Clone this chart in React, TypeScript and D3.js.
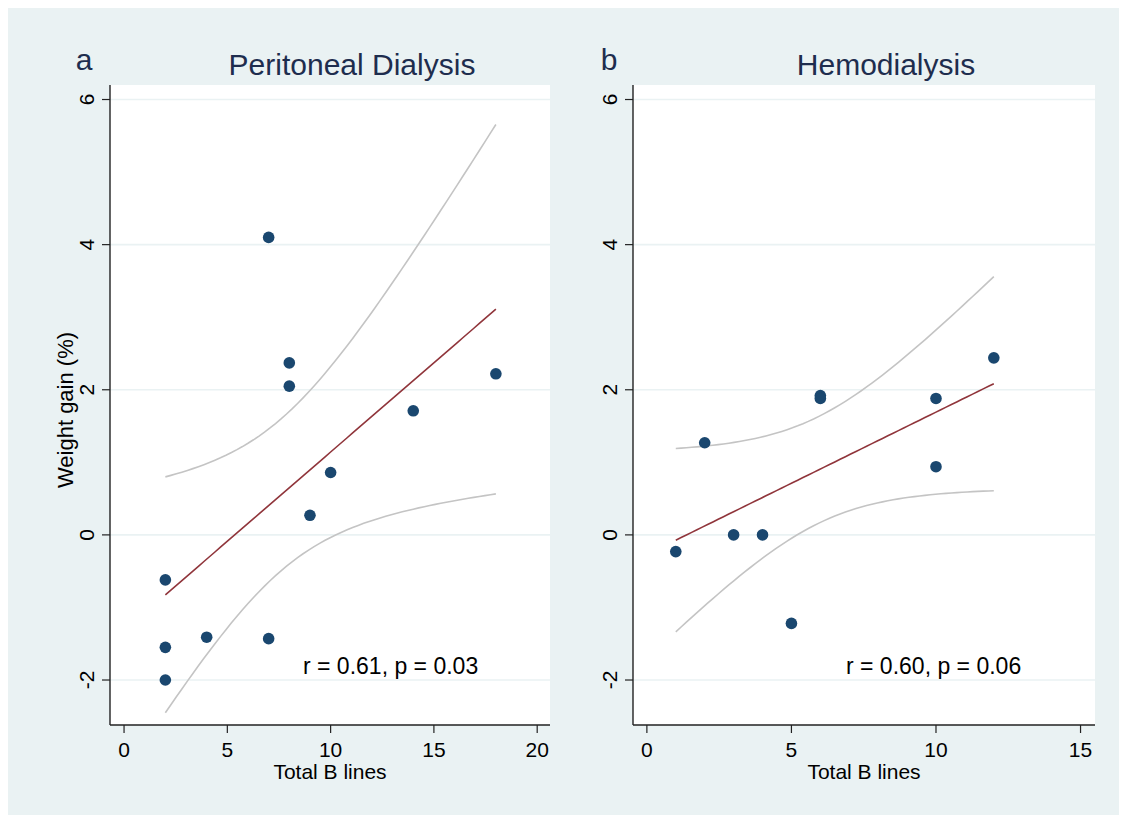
import React from 'react';
import * as d3 from 'd3';

// Peritoneal dialysis: total B lines vs weight gain (%)
const pdLines = [7, 8, 8, 18, 14, 10, 9, 2, 2, 4, 7, 2];
const pdGain = [4.1, 2.37, 2.05, 2.22, 1.71, 0.86, 0.27, -0.62, -1.55, -1.41, -1.43, -2.0];
// Hemodialysis
const hdLines = [1, 2, 3, 4, 5, 6, 6, 10, 10, 12];
const hdGain = [-0.23, 1.27, 0, 0, -1.22, 1.92, 1.88, 1.88, 0.94, 2.44];

const yTicks = [-2, 0, 2, 4, 6];
const pdXTicks = [0, 5, 10, 15, 20];
const hdXTicks = [0, 5, 10, 15];

// two-sided 95% t critical values by degrees of freedom
const tCrit: Record<number, number> = { 8: 2.306, 10: 2.228 };

const BG = '#eaf2f3';
const NAVY = '#1a476f';
const FIT = '#90353b';
const CI = '#c4c4c4';
const TITLE = '#1e2d4e';
const FONT = '"Liberation Sans", Arial, Helvetica, sans-serif';

function fitWithCI(xs: number[], ys: number[]) {
  const n = xs.length;
  const mx = d3.mean(xs)!;
  const my = d3.mean(ys)!;
  const sxx = d3.sum(xs, (x) => (x - mx) ** 2);
  const sxy = d3.sum(xs, (x, i) => (x - mx) * (ys[i] - my));
  const b = sxy / sxx;
  const a = my - b * mx;
  const sse = d3.sum(xs, (x, i) => (ys[i] - a - b * x) ** 2);
  const s = Math.sqrt(sse / (n - 2));
  const t = tCrit[n - 2];
  const [lo, hi] = d3.extent(xs) as [number, number];
  const pts = d3.range(0, 61).map((k) => {
    const x = lo + ((hi - lo) * k) / 60;
    const yhat = a + b * x;
    const half = t * s * Math.sqrt(1 / n + (x - mx) ** 2 / sxx);
    return { x, yhat, upper: yhat + half, lower: yhat - half };
  });
  return pts;
}

type PanelProps = {
  letter: string;
  title: string;
  titleX: number;
  xs: number[];
  ys: number[];
  xDomain: [number, number];
  xRange: [number, number];
  xTicks: number[];
  stat: string;
  statX: number;
  showYLabel: boolean;
  letterX: number;
};

function Panel(p: PanelProps) {
  const top = 85;
  const bottom = 725;
  const x = d3.scaleLinear().domain(p.xDomain).range(p.xRange);
  const y = d3.scaleLinear().domain([-2.62, 6.2]).range([bottom, top]);
  const fit = fitWithCI(p.xs, p.ys);
  const mk = (key: 'yhat' | 'upper' | 'lower') =>
    d3
      .line<{ x: number; yhat: number; upper: number; lower: number }>()
      .x((d) => x(d.x))
      .y((d) => y(d[key]))(fit) || '';
  const [x0, x1] = p.xRange;
  const midX = (x0 + x1) / 2;

  return (
    <g>
      <rect x={x0} y={top} width={x1 - x0} height={bottom - top} fill="#fff" />
      {yTicks.map((t) => (
        <line key={'g' + t} x1={x0} x2={x1} y1={y(t)} y2={y(t)} stroke={BG} strokeWidth={1.6} />
      ))}
      <path d={mk('upper')} fill="none" stroke={CI} strokeWidth={1.6} />
      <path d={mk('lower')} fill="none" stroke={CI} strokeWidth={1.6} />
      <path d={mk('yhat')} fill="none" stroke={FIT} strokeWidth={1.6} />
      {p.xs.map((v, i) => (
        <circle key={i} cx={x(v)} cy={y(p.ys[i])} r={5.8} fill={NAVY} />
      ))}
      {/* y axis */}
      <line x1={x0} x2={x0} y1={top} y2={bottom} stroke="#222" strokeWidth={1.4} />
      {yTicks.map((t) => (
        <g key={'y' + t}>
          <line x1={x0 - 8} x2={x0} y1={y(t)} y2={y(t)} stroke="#222" strokeWidth={1.2} />
          <text
            transform={`translate(${x0 - 24},${y(t)}) rotate(-90)`}
            textAnchor="middle"
            dy="0.36em"
            fontSize={21}
            fill="#000"
          >
            {t}
          </text>
        </g>
      ))}
      {/* x axis */}
      <line x1={x0} x2={x1} y1={bottom} y2={bottom} stroke="#222" strokeWidth={1.4} />
      {p.xTicks.map((t) => (
        <g key={'x' + t}>
          <line x1={x(t)} x2={x(t)} y1={bottom} y2={bottom + 8} stroke="#222" strokeWidth={1.2} />
          <text x={x(t)} y={bottom + 32} textAnchor="middle" fontSize={21} fill="#000">
            {t}
          </text>
        </g>
      ))}
      <text x={midX} y={bottom + 54} textAnchor="middle" fontSize={21} fill="#000">
        Total B lines
      </text>
      {p.showYLabel && (
        <text
          transform={`translate(${x0 - 37},410) rotate(-90)`}
          textAnchor="middle"
          fontSize={22}
          fill="#000"
        >
          Weight gain (%)
        </text>
      )}
      <text x={p.statX} y={674} fontSize={23} fill="#000">
        {p.stat}
      </text>
      <text x={p.letterX} y={70} textAnchor="middle" fontSize={30} fill={TITLE}>
        {p.letter}
      </text>
      <text x={p.titleX} y={75} textAnchor="middle" fontSize={30} fill={TITLE}>
        {p.title}
      </text>
    </g>
  );
}

export default function App() {
  return (
    <svg
      width={1127}
      height={823}
      style={{ position: 'absolute', left: 0, top: 0, fontFamily: FONT }}
    >
      <rect x={0} y={0} width={1127} height={823} fill="#fff" />
      <rect x={8} y={8} width={1111} height={807} fill={BG} />
      <Panel
        letter="a"
        letterX={84}
        title="Peritoneal Dialysis"
        titleX={352}
        xs={pdLines}
        ys={pdGain}
        xDomain={[-0.68, 20.62]}
        xRange={[110, 550]}
        xTicks={pdXTicks}
        stat="r = 0.61, p = 0.03"
        statX={303}
        showYLabel={true}
      />
      <Panel
        letter="b"
        letterX={609}
        title="Hemodialysis"
        titleX={886}
        xs={hdLines}
        ys={hdGain}
        xDomain={[-0.48, 15.5]}
        xRange={[633, 1095]}
        xTicks={hdXTicks}
        stat="r = 0.60, p = 0.06"
        statX={846}
        showYLabel={false}
      />
    </svg>
  );
}
